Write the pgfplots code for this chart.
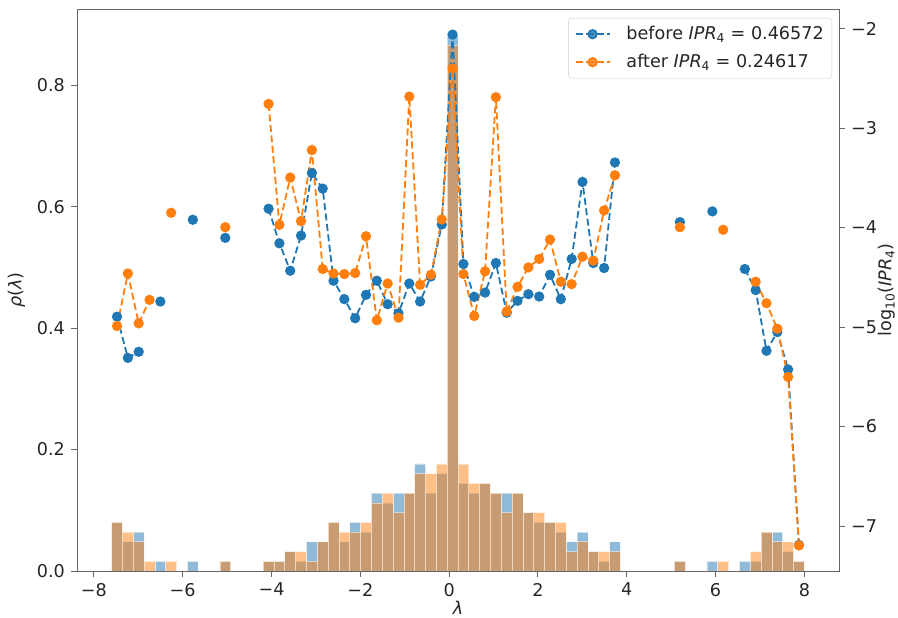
\documentclass[border=0pt]{standalone}
\usepackage{fontspec}
\setmainfont{DejaVu Sans}
\usepackage{pgfplots}
\usepackage{pgfplotstable}
\pgfplotsset{compat=1.18}
\definecolor{mblue}{HTML}{1F77B4}
\definecolor{morange}{HTML}{FF7F0E}
\newcommand{\fs}{\fontsize{17.6}{20}\selectfont}

\pgfplotstableread{
k x b o
0 -7.478125 -4.896 -4.990
1 -7.234375 -5.310 -4.462
2 -6.990625 -5.249 -4.963
3 -6.746875 nan -4.727
4 -6.503125 -4.744 nan
5 -6.259375 nan -3.852
6 -6.015625 nan nan
7 -5.771875 -3.922 nan
8 -5.528125 nan nan
9 -5.284375 nan nan
10 -5.040625 -4.104 -3.997
11 -4.796875 nan nan
12 -4.553125 nan nan
13 -4.309375 nan nan
14 -4.065625 -3.811 -2.758
15 -3.821875 -4.159 -3.973
16 -3.578125 -4.434 -3.498
17 -3.334375 -4.081 -3.936
18 -3.090625 -3.452 -3.222
19 -2.846875 -3.609 -4.417
20 -2.603125 -4.535 -4.462
21 -2.359375 -4.720 -4.468
22 -2.115625 -4.912 -4.458
23 -1.871875 -4.677 -4.088
24 -1.628125 -4.535 -4.932
25 -1.384375 -4.771 -4.563
26 -1.140625 -4.862 -4.906
27 -0.896875 -4.563 -2.684
28 -0.653125 -4.744 -4.576
29 -0.409375 -4.492 -4.475
30 -0.165625 -3.970 -3.919
31 0.078125 -2.061 -2.404
32 0.321875 -4.367 -4.468
33 0.565625 -4.697 -4.889
34 0.809375 -4.654 -4.441
35 1.053125 -4.357 -2.690
36 1.296875 -4.856 -4.845
37 1.540625 -4.737 -4.596
38 1.784375 -4.670 -4.401
39 2.028125 -4.694 -4.316
40 2.271875 -4.475 -4.121
41 2.515625 -4.720 -4.545
42 2.759375 -4.316 -4.569
43 3.003125 -3.542 -4.293
44 3.246875 -4.357 -4.333
45 3.490625 -4.407 -3.828
46 3.734375 -3.346 -3.475
47 3.978125 nan nan
52 5.196875 -3.946 -3.997
53 5.440625 nan nan
55 5.928125 -3.838 nan
56 6.171875 nan -4.023
57 6.415625 nan nan
58 6.659375 -4.417 nan
59 6.903125 -4.629 -4.545
60 7.146875 -5.239 -4.761
61 7.390625 -5.050 -5.017
62 7.634375 -5.427 -5.502
63 7.878125 -7.190 -7.195
}\ipr

\begin{document}
\fs
\begin{tikzpicture}
\useasboundingbox (-77pt,-47pt) rectangle (821pt,571pt);
\begin{axis}[
  at={(0pt,0pt)}, anchor=south west,
  scale only axis, width=762pt, height=562pt,
  xmin=-8.38, xmax=8.78, ymin=0, ymax=0.9255,
  xtick={-8,-6,-4,-2,0,2,4,6,8},
  xticklabels={−8,−6,−4,−2,0,2,4,6,8},
  ytick={0,0.2,0.4,0.6,0.8},
  yticklabels={0.0,0.2,0.4,0.6,0.8},
  xtick pos=left, ytick pos=left,
  tick align=outside, major tick length=6pt,
  axis line style={black!60, line width=0.9pt},
  every tick/.style={black!60, line width=0.9pt},
  tick label style={font=\fs, text=black!85},
  label style={font=\fs, text=black!85},
  xlabel={\textit{λ}},
  ylabel={\textit{ρ}(\textit{λ})},
  xlabel style={yshift=7pt},
]
\addplot[ybar, bar width=0.24375, bar shift=0pt, fill=mblue, draw=white, line width=0.7pt, opacity=0.5] coordinates {
(-7.478125,0.08013) (-7.234375,0.04808) (-6.990625,0.06410) (-6.503125,0.01603)
(-5.771875,0.01603) (-5.040625,0.01603) (-4.065625,0.01603) (-3.821875,0.01603)
(-3.578125,0.03205) (-3.334375,0.01603) (-3.090625,0.04808) (-2.846875,0.04808)
(-2.603125,0.08013) (-2.359375,0.04808) (-2.115625,0.08013) (-1.871875,0.06410)
(-1.628125,0.12821) (-1.384375,0.11218) (-1.140625,0.12821) (-0.896875,0.12821)
(-0.653125,0.17628) (-0.409375,0.12821) (-0.165625,0.16026) (0.078125,0.88141)
(0.321875,0.14423) (0.565625,0.12821) (0.809375,0.14423) (1.053125,0.12821)
(1.296875,0.12821) (1.540625,0.12821) (1.784375,0.09615) (2.028125,0.08013)
(2.271875,0.08013) (2.515625,0.06410) (2.759375,0.04808) (3.003125,0.06410)
(3.246875,0.03205) (3.490625,0.01603) (3.734375,0.04808)
(5.196875,0.01603) (5.928125,0.01603) (6.659375,0.01603) (6.903125,0.01603)
(7.146875,0.06410) (7.390625,0.06410) (7.634375,0.03205) (7.878125,0.01603)
};
\addplot[ybar, bar width=0.24375, bar shift=0pt, fill=morange, draw=white, line width=0.7pt, opacity=0.5] coordinates {
(-7.478125,0.08013) (-7.234375,0.06410) (-6.990625,0.04808) (-6.746875,0.01603)
(-6.259375,0.01603) (-5.040625,0.01603) (-4.065625,0.01603) (-3.821875,0.01603)
(-3.578125,0.03205) (-3.334375,0.03205) (-3.090625,0.01603) (-2.846875,0.04808)
(-2.603125,0.08013) (-2.359375,0.06410) (-2.115625,0.06410) (-1.871875,0.08013)
(-1.628125,0.11218) (-1.384375,0.12821) (-1.140625,0.09615) (-0.896875,0.12821)
(-0.653125,0.16026) (-0.409375,0.16026) (-0.165625,0.17628) (0.078125,0.86538)
(0.321875,0.17628) (0.565625,0.14423) (0.809375,0.14423) (1.053125,0.12821)
(1.296875,0.09615) (1.540625,0.12821) (1.784375,0.09615) (2.028125,0.09615)
(2.271875,0.08013) (2.515625,0.08013) (2.759375,0.03205) (3.003125,0.04808)
(3.246875,0.03205) (3.490625,0.03205) (3.734375,0.03205)
(5.196875,0.01603) (6.171875,0.01603) (6.903125,0.03205)
(7.146875,0.06410) (7.390625,0.04808) (7.634375,0.04808) (7.878125,0.01603)
};
\end{axis}
\begin{axis}[
  at={(0pt,0pt)}, anchor=south west,
  scale only axis, width=762pt, height=562pt,
  xmin=-8.38, xmax=8.78, ymin=-7.452, ymax=-1.804,
  clip=false,
  axis x line=none, axis y line*=right,
  y axis line style={-, black!60, line width=0.9pt},
  ytick={-7,-6,-5,-4,-3,-2},
  yticklabels={−7,−6,−5,−4,−3,−2},
  ytick pos=right,
  tick align=outside, major tick length=6pt,
  every tick/.style={black!60, line width=0.9pt},
  tick label style={font=\fs, text=black!85},
  unbounded coords=jump,
  legend cell align=left,
  legend style={at={(0.9908,0.984)}, anchor=north east, draw=black!20,
    fill=white, fill opacity=0.8, text opacity=1, rounded corners=3pt,
    font=\fs, text=black!85, row sep=8pt, inner xsep=6pt, inner ysep=6pt},
  legend image code/.code={\draw[#1, mark repeat=2, mark phase=2] plot coordinates {(0pt,0pt) (17pt,0pt) (34pt,0pt)}; \path (48pt,0pt);},
]
\addplot[mblue, line width=1.8pt, dash pattern=on 7pt off 3.5pt, mark=*, mark size=4.2pt, mark options={solid}] table[x=x, y=b] {\ipr};
\addlegendentry{before \textit{IPR}\textsubscript{4} = 0.46572}
\addplot[morange, line width=1.8pt, dash pattern=on 7pt off 3.5pt, mark=*, mark size=4.2pt, mark options={solid}] table[x=x, y=o] {\ipr};
\addlegendentry{after \textit{IPR}\textsubscript{4} = 0.24617}
\node[rotate=90, anchor=center, font=\fs, text=black!85] at (rel axis cs:1.0625,0.5) {log\textsubscript{10}(\textit{IPR}\textsubscript{4})};
\end{axis}
\end{tikzpicture}
\end{document}
